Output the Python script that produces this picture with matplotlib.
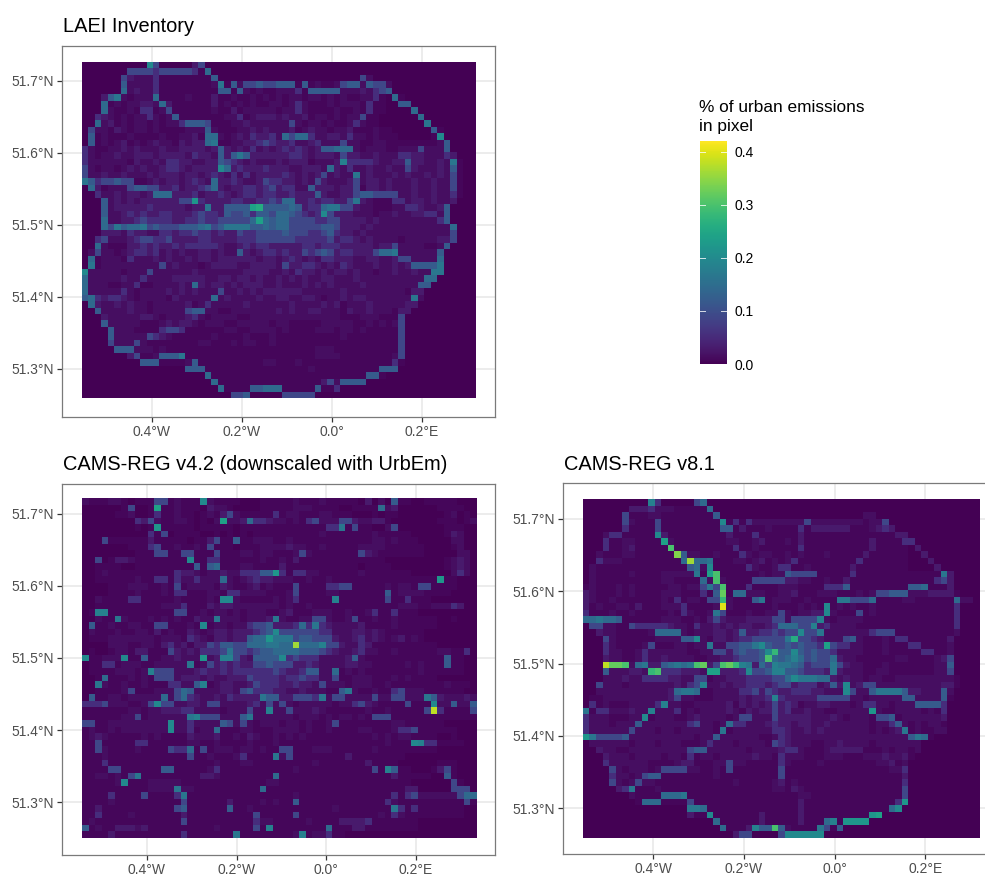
#!/usr/bin/env python3
# -*- coding: utf-8 -*-

import numpy as np
import matplotlib
matplotlib.use('Agg')
import matplotlib.pyplot as plt

# Pixel values, one string per row (north first).
# Each character is a base-36 level, level_values gives its % of urban emissions
laei_rows = [
    "0000000000 a500000350",
    "0000000555 5455555417",
    "0000005322 2411111111 6000000000 0000000000 0005200000",
    "0000006222 2411111111 2816255655 6661612112 5662655200",
    "0000007232 2411111111 1661621211 2224166666 2223245600",
    "0003682122 2711112111 3112112121 2122122121 2112241071",
    "0007121223 3273111111 3121212112 2124211121 2221411006 6000000000 0",
    "0007211214 4125111111 2113122222 1224211112 1121411000 0700000000 0",
    "0043212122 4212611111 1122412333 2322312212 1225110000 0070000000 0",
    "0072312122 1212246665 1112232222 2252122121 1242110000 0008000000 0",
    "0522132122 1211112226 2111223232 2231232212 2311121100 0000610000 0",
    "0612111211 1121122317 7212324334 2757742233 2422121110 00001a0000 0",
    "0612123121 2322132337 8112233454 3342234222 5221122111 1111126000 0",
    "4211223232 2232233332 3632324232 3434323667 7721222112 2252226000 0",
    "4212232233 3233332433 2636863333 3344323332 5332232224 4332224300 0",
    "4222222132 2324433223 3654323222 3233312223 9444432233 6332232810 0",
    "5212212323 2234432333 3a73433343 3322333273 2422322322 5322232610 0",
    "5223223222 3233323323 4324242333 3432323523 2282322232 3223232510 0",
    "8645565511 2323323432 7334322354 4332325322 2352332322 2322322510 0",
    "0731222566 5533423345 7323344345 3442263332 3351332322 2322322510 0",
    "0042232332 3777333423 3432344344 3343336322 3356655552 2322322410 0",
    "0006232323 3333355b43 3334433445 4773343443 3583211144 2332322300 0",
    "0006233333 4333332338 336666cd66 6676344788 5532211122 4432236000 0",
    "0006223434 3344333454 4365564665 7765434a53 3322212232 2334426000 0",
    "0007223345 4444334454 4555557c76 7755554455 3333232222 2222246000 0",
    "0007586778 5655566678 5688886676 7755555665 3332322222 2222222700 0",
    "0003332433 2244344544 3433544555 5655544564 3323222222 2222222500 0",
    "0045222345 5445333344 3333444555 5554444453 4432322221 2222233500 0",
    "0072111334 3433434444 4322343443 3333443444 3333323352 2221126000 0",
    "0252212344 3423232233 2322632344 3433545653 4433357782 2222260000 0",
    "0712221422 2323223233 2333333233 2343232443 3322332235 5222270000 0",
    "0812222222 2252322212 3333223333 2533443232 4322232232 3666680000 0",
    "a222221222 5222222322 2222233332 2324332323 3232212232 2322880000 0",
    "7222223224 2222333332 2332332322 3232322332 2232222222 2227700000 0",
    "7222112241 1222232732 3323233322 3222323232 2223222222 2266000000 0",
    "7222224212 2223232322 2522323233 3333222222 3222222222 1330000000 0",
    "6743443212 2221322222 7232222322 3322332122 3233222222 2820000000 0",
    "0732232322 1222223124 2222232222 2232222323 1222322222 3300000000 0",
    "0062222322 1222225662 2112222222 3232233222 1322322213 3000000000 0",
    "0003222223 3212223421 2222112222 2222222222 1112221115 0000000000 0",
    "0006222221 1123233212 2211222221 2211111222 2211212125 0000000000 0",
    "0000622211 1145541111 1122112222 1211112221 2212111115 0000000000 0",
    "0000622222 5432111111 2111121112 1111111111 2111111115 0000000000 0",
    "0000522252 1111111122 1112122112 1111111111 1111111115 0000000000 0",
    "0000066622 2121111111 1111111111 1111112221 1111111115 0000000000 0",
    "0000000351 1266681111 1111111111 1111112222 1111111125 0000000000 0",
    "0000000006 6611112611 1111111122 1112111111 1111111141 0000000000 0",
    "0000000000 0000006661 1111111111 1111121111 1111116660 0000000000 0",
    "0000000000 0000000007 1111111111 1111111111 1111661000 0000000000 0",
    "0000000000 0000000000 7111111111 1111111352 6666000000 0000000000 0",
    "0000000000 0000000000 0711116677 7111116114 0000000000 0000000000 0",
    "0000000000 0000000000 0005560000 0555550000 0000000000 0000000000 0",
]

cams42_rows = [
    "2111221011 15512111a2 1111000111 1121112111 1103020611 0011111000",
    "0000001500 1c11211103 2210000111 1122211110 0111172300 0000111100",
    "0000011200 1411211012 1352111114 1221112211 1000101100 0000012010",
    "0000000043 5211221010 2c22374432 2121452225 5322331000 0000111012",
    "0000000010 1b11111011 1110111111 1111111448 1511002500 0000011100",
    "0000000000 4150111100 1010101111 1111112111 1111211111 0000013200",
    "0005111111 3111110113 5116112221 1211111111 1111221211 1000002200",
    "0000000111 4511211215 1110111222 2322112111 1122221111 1100001200",
    "0000000011 1551155111 5111221221 1125211111 1153211111 1100000220",
    "0050133211 111111a114 4111111211 2131111111 1111110000 0000012320",
    "0011110011 1111111616 7111221111 3111111111 1101111000 0000012320",
    "0012111111 1111433212 232244466b 4144221111 1121111111 0000002420",
    "0011111121 1441422422 2721234332 2211211211 1111111111 1111b11000",
    "0000111222 1121512222 1321123121 1151111445 5111112122 1551111000",
    "0000111121 1121441112 2144222211 1251111221 1111116122 2211110000",
    "0021111441 1111211112 1aa2111112 1241111191 1111115114 1110000000",
    "0011111111 1122241113 2332222222 1211211111 1111111122 2112224300",
    "0199111111 1111551121 2212122211 2311122211 2112411411 1000000000",
    "0021182111 2121211322 8222122238 2112255211 2511211211 1111001000",
    "0611211221 15511121a1 2212245563 3347484322 2231111211 1111000000",
    "0211121122 1312113212 332333456a 5555554422 2332321111 1100000000",
    "0111222222 2122214321 33233677b8 8856655532 2342321231 2100000000",
    "0000222112 2134231335 4665577788 77i7779553 2243111111 1111000000",
    "0100122133 1115323244 4585545667 7776665432 2342211211 1111221140",
    "a11222a116 11223222b2 3995326666 a454442222 3621111111 1111161100",
    "0114412221 1222228125 3434335565 5533432222 3322111112 1211161100",
    "0111122212 9555222343 3434444445 4334662271 2121111111 1211111100",
    "0017111212 1555233323 2233354444 3445442251 1222111212 1111000000",
    "0082112112 1114422691 2332235444 3343325222 1222112111 1111121110",
    "0011112511 1222576222 2332564443 3223222116 8211211452 2211111100",
    "0611221222 2272574322 3243333866 3355548255 2222522552 2286322232",
    "4445222112 5a55223325 5222234252 5212222212 2453211115 111a226226",
    "1111111221 2233344222 2122252292 2522232111 1112112111 115j411115",
    "1111112251 2222228955 5222682222 2212221212 2121555111 1111111111",
    "5511222222 222a224222 2652521222 1221211251 1111111221 1111100000",
    "1211212222 222a224122 7111221112 2221211211 1122111244 5111111000",
    "1232111112 1211113222 3112132112 1212111111 1111212122 1111001000",
    "1151111144 1111112211 2111121112 1111111111 1111112111 a944111100",
    "1152111121 1115447151 2221221211 5511122211 1111211111 1111000000",
    "1112111111 1111115112 1112411118 2511111111 3111111110 0000000000",
    "1114111111 1111111111 2111221111 1111121111 1113111100 0000111000",
    "1111551111 1166111112 4111111111 1121111111 1111519611 0001351000",
    "1122121581 1111111133 2111111117 1111111111 1111111311 1110061000",
    "111112a111 2222211111 1111111122 1111111111 1111111111 0000005100",
    "1111111111 2222822111 1111111711 1111111111 1111111113 3000005550",
    "1111411115 1111481111 1111111111 1121111111 1111111414 5222222577",
    "1111211111 1111151111 1131111212 1161111111 1111114211 1111111151",
    "1131111111 1111561111 1161121111 1111111121 1111111841 4111111100",
    "1141111211 1111131111 1111115111 1151111111 1111121421 1111111100",
    "1211111111 1111151111 1111114221 1111211113 3334111111 1000000000",
    "6121133323 1111111111 2111115191 1111111711 1331111111 1000000000",
    "1111311111 1111141111 1118111111 1129122411 0000000000 0000000000",
]

cams81_rows = [
    "0000000000 9400000570",
    "0000000333 4222111117",
    "0000005111 2211111111 6000000000 0000000000 0002200000",
    "0000005211 1511111111 1a14142222 2222522222 2221225000",
    "0000004111 1511111111 1661311121 1114133333 3111234300",
    "0002441111 1a31111111 1131114111 1113111111 1111111133",
    "0004112211 11c2111111 1122112311 1213111111 1111311114 4000000000",
    "0004112311 111f111111 1114112111 1114111111 1111311111 0300000000",
    "0021112211 1111h62211 2111421221 1212111211 1113111111 0030000000",
    "0042221111 111117i778 1112212312 1241111111 1141111111 0003000000",
    "0211111111 111111672a 1111142112 4411211111 1311111111 0000300000",
    "0211111211 112222281c f111111212 2655551111 1411111111 1111183000",
    "0211111111 1122111172 f211115555 5332211211 3111111111 1111453000",
    "1211121211 1112212258 5f11141111 2221111444 6111111111 6671113000",
    "3211121211 1122211141 6g17722211 2231112221 1121255666 2223333100",
    "3211211111 1121412215 5e21116812 2211211118 8555711112 2111111722",
    "3121122131 1122241111 2k21111112 1112121a12 1211211111 1111111400",
    "4111211211 1112142112 8511121122 5212233a21 1151211111 1111111400",
    "7787761111 1122211213 5322233335 5255559212 2221111111 1111111400",
    "0552211544 4443221422 3232332234 7775593422 2211111111 1111111400",
    "0032211111 2777721222 3323633445 455a558222 2222455511 1111111200",
    "0005211111 1222266a21 3323445555 58d5543222 5621112144 1111113000",
    "0004211112 5111221228 2255668a65 5656554c54 4221112111 4411112000",
    "0004221124 2222221122 553565 56ae 66a6565542 2221112111 1144112000",
    "0003221124 2232222112 2334555 6f7 6797565573 2211111122 1111235000",
    "000jggf278 336787 8fg3 5fge983759 8876455585 3221112111 1111226000",
    "0006222332 ef44433 32c c3334a5569 9665444383 2221122111 1111225000",
    "0002223224 4443322551 2233344445 57a8887732 3221221122 2222222100",
    "0052221222 2222324592 2323344434 5534442363 a235522222 2222233100",
    "0022222222 2223788711 2222445354 3344433222 a522688886 3322262000",
    "0112222222 2223522111 2222323349 4333335555 5221222226 6222261000",
    "0412111222 2492211222 2231323235 3431223322 2124422122 2666640000",
    "8144222322 9222412122 2232132335 3422322112 2222b21122 2212140000",
    "422211122a 1222112322 2212552225 3333322232 1222155612 2222230000",
    "4222122262 2222224522 1274422234 3323322322 2222122462 1212210000",
    "4222222522 2122122222 1812222224 4322323222 2222121238 1211220000",
    "b855556222 2222222122 6222222112 4322222222 2222222222 6871000000",
    "0222222122 2122211124 2221222215 4322211223 2222122222 2200000000",
    "0032211222 2222225662 2222212222 3442111233 3331112122 1200000000",
    "0003222122 2212214122 1222223221 4222111222 1112223223 1000000000",
    "0004222222 1111233111 2252211111 4211112111 1111122312 0000000000",
    "0000521222 1255552211 2151111111 5111111111 1111111224 0000000000",
    "0000422125 6611111111 2111111111 5111111111 1111111113 0000000000",
    "0000521252 2111111111 1112111112 3121111111 1111111114 0000000000",
    "0000034811 1211111111 1111111112 2132111111 1111111115 0000000000",
    "0000000211 1177781111 1111111111 1112211111 1111111115 0000000000",
    "0000000017 7711115111 1111111111 1113111111 111111114b 0000000000",
    "0000000000 0000008871 1111111111 1113111111 11111117a0 0000000000",
    "0000000000 000000311a 1111111311 1113111111 1111bc0000 0000000000",
    "0000000000 0000000000 7111111311 1113111791 bbbb000000 0000000000",
    "0000000000 0000000000 071113966f 6211118516 0000000000 0000000000",
    "0000000000 0000000000 0003550000 5aaaaaa000 0000000000 0000000000",
]

# % of urban emissions for each level 0-9, a-k
level_values = [0.0, 0.008, 0.016, 0.03, 0.055, 0.09, 0.12, 0.145, 0.165, 0.185, 0.2,
                0.22, 0.24, 0.26, 0.28, 0.3, 0.32, 0.34, 0.36, 0.38, 0.4]

lon_ticks = [-0.4, -0.2, 0.0, 0.2]
lon_labels = ['0.4°W', '0.2°W', '0.0°', '0.2°E']
lat_ticks = [51.3, 51.4, 51.5, 51.6, 51.7]
lat_labels = ['51.3°N', '51.4°N', '51.5°N', '51.6°N', '51.7°N']
bar_ticks = [0.0, 0.1, 0.2, 0.3, 0.4]
max_value = 0.42

W, H = 985, 876
plt.rcParams['font.family'] = ['Liberation Sans', 'DejaVu Sans']
fig = plt.figure(figsize=(W / 100, H / 100), dpi=100)


def to_grid(rows, ncol):
    '''
    Turn the row strings into a value matrix
    '''
    grid = np.zeros((len(rows), ncol))
    for i, row in enumerate(rows):
        row = row.replace(' ', '')
        for j, ch in enumerate(row[:ncol]):
            grid[i, j] = level_values[int(ch, 36)]
    return grid


def px_axes(x0, y0, x1, y1):
    return fig.add_axes([x0 / W, 1 - y1 / H, (x1 - x0) / W, (y1 - y0) / H])


def panel(rows, ncol, box, img, lon_px, lat_px, title):
    # box and img are x0, y0, x1, y1 in pixels
    # lon_px: x of lon 0 and px per degree, lat_px: y of 51.7 and px per degree
    ax = px_axes(*box)
    to_lon = lambda x: (x - lon_px[0]) / lon_px[1]
    to_lat = lambda y: 51.7 - (y - lat_px[0]) / lat_px[1]
    im = ax.imshow(to_grid(rows, ncol), cmap='viridis', vmin=0, vmax=max_value,
                   extent=[to_lon(img[0]), to_lon(img[2]), to_lat(img[3]), to_lat(img[1])],
                   aspect='auto', interpolation='nearest', zorder=2)
    ax.set_xlim(to_lon(box[0]), to_lon(box[2]))
    ax.set_ylim(to_lat(box[3]), to_lat(box[1]))
    ax.set_xticks(lon_ticks, lon_labels)
    ax.set_yticks(lat_ticks, lat_labels)
    ax.grid(color='#ebebeb', lw=1.3, zorder=0)
    ax.set_axisbelow(True)
    ax.tick_params(colors='#4d4d4d', labelsize=10, length=3.5, width=0.9, pad=2.5, color='#333333')
    for s in ax.spines.values():
        s.set_color('#7a7a7a')
        s.set_linewidth(0.9)
        s.set_zorder(5)
    fig.text((box[0] + 1) / W, 1 - (box[1] - 13.5) / H, title, fontsize=14.45, color='black',
             ha='left', va='baseline')
    return im


im = panel(laei_rows, 61, (62, 46, 495, 417), (82, 62.3, 475.5, 398),
           (332, 450), (81, 720), 'LAEI Inventory')
panel(cams42_rows, 60, (62, 483.5, 495, 855), (81.7, 499.3, 476, 838.3),
      (326, 447.5), (513.5, 722), 'CAMS-REG v4.2 (downscaled with UrbEm)')
panel(cams81_rows, 61, (563, 483.5, 999, 854), (583, 499.3, 979.3, 838),
      (834.5, 453.5), (519, 723), 'CAMS-REG v8.1')

# Colour bar legend
cax = px_axes(699.5, 141, 726.5, 364)
bar = fig.colorbar(im, cax=cax)
bar.set_ticks(bar_ticks, labels=[f'{t:.1f}' for t in bar_ticks])
bar.outline.set_visible(False)
cax.tick_params(length=0, labelsize=10, labelcolor='black', pad=6)
for t in bar_ticks:
    cax.plot([0, 0.2], [t, t], transform=cax.get_yaxis_transform(), color='white', lw=0.7, alpha=0.8, zorder=5)
    cax.plot([0.8, 1], [t, t], transform=cax.get_yaxis_transform(), color='white', lw=0.7, alpha=0.8, zorder=5)
fig.text(699 / W, 1 - 111.5 / H, '% of urban emissions', fontsize=12.45, ha='left', va='baseline')
fig.text(699 / W, 1 - 130.5 / H, 'in pixel', fontsize=12.45, ha='left', va='baseline')

plt.savefig('out.png', dpi=100)
plt.close()
